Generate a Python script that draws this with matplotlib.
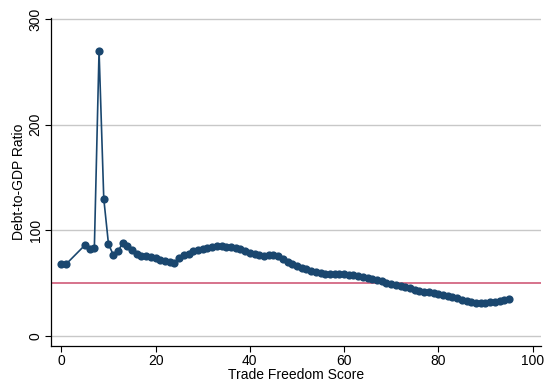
import matplotlib
matplotlib.use('Agg')
import matplotlib.pyplot as plt

# Trade freedom score vs mean debt-to-GDP ratio
trade_score = [0, 1, 5, 6, 7, 8, 9, 10, 11, 12, 13, 14, 15, 16, 17, 18, 19, 20,
               21, 22, 23, 24, 25, 26, 27, 28, 29, 30, 31, 32, 33, 34, 35, 36, 37,
               38, 39, 40, 41, 42, 43, 44, 45, 46, 47, 48, 49, 50, 51, 52, 53, 54,
               55, 56, 57, 58, 59, 60, 61, 62, 63, 64, 65, 66, 67, 68, 69, 70, 71,
               72, 73, 74, 75, 76, 77, 78, 79, 80, 81, 82, 83, 84, 85, 86, 87, 88,
               89, 90, 91, 92, 93, 94, 95]
debt_ratio = [68, 68, 86, 82, 83, 270, 130, 87, 77, 80, 88, 85, 81, 78, 76, 75.5, 75, 73.5,
              72, 71, 70.5, 69, 74, 77, 78, 80, 81, 82, 83, 84, 85.5, 85, 84.5, 84, 83,
              82, 80, 78.5, 77.5, 76.5, 76, 76.5, 76.5, 75.5, 73, 70.5, 68, 66, 64.5, 63, 61.5, 60.5,
              59.5, 59, 58.5, 58.5, 58.5, 58.5, 58, 57.5, 56.5, 56, 55, 54, 53, 52, 50.5, 49.5, 48,
              47, 46, 45, 44, 43, 42, 41.5, 40.5, 40, 39, 38, 37, 35.5, 34.5, 33.5, 32.5, 31.5,
              31.5, 31.5, 32, 32.5, 33.5, 34, 35]
threshold = 50
x_ticks = [0, 20, 40, 60, 80, 100]
y_ticks = [0, 100, 200, 300]

plt.rcParams['font.family'] = ['Liberation Sans', 'DejaVu Sans']

fig = plt.figure(figsize=(5.45, 3.85), dpi=100)
ax = fig.add_axes([51 / 545, 39.5 / 385, 490 / 545, 327.5 / 385])

for yt in y_ticks:
    ax.axhline(yt, color='#c8c8c8', lw=1.0, zorder=0)
ax.axhline(threshold, color='#d05a78', lw=1.2, zorder=1)

ax.plot(trade_score, debt_ratio, color='#1a476f', lw=1.2, marker='o',
        markersize=5.9, markeredgewidth=0, zorder=3)

ax.set_xlim(-2.2, 101.8)
ax.set_ylim(-9, 301)
ax.set_xticks(x_ticks)
ax.set_yticks(y_ticks)
ax.set_yticklabels([str(t) for t in y_ticks], rotation=90, va='center')
ax.tick_params(direction='out', length=4, width=0.8, labelsize=10, color='black')
ax.tick_params(axis='y', pad=2)
ax.tick_params(axis='x', pad=2)

ax.spines['top'].set_visible(False)
ax.spines['right'].set_visible(False)
ax.spines['left'].set_linewidth(0.9)
ax.spines['bottom'].set_linewidth(0.9)

ax.set_xlabel('Trade Freedom Score', fontsize=10, labelpad=0)
ax.set_ylabel('Debt-to-GDP Ratio', fontsize=10, labelpad=2)

fig.savefig('out.png', dpi=100, facecolor='white')
